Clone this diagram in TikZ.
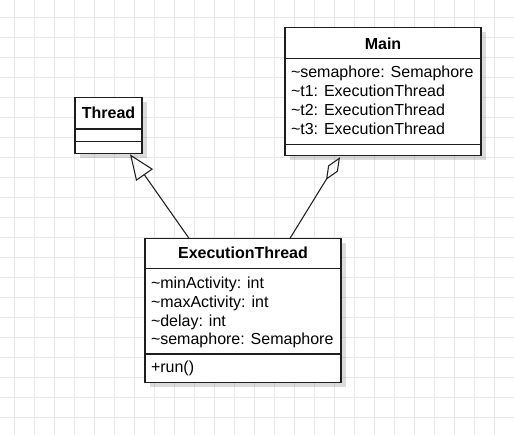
\documentclass[tikz,border=0pt]{standalone}
\usepackage{fontspec}
\setmainfont{Liberation Sans}
\usetikzlibrary{arrows.meta,calc,shadows}
\definecolor{gridgray}{RGB}{232,232,232}
\definecolor{boxline}{RGB}{30,30,30}
\begin{document}
\begin{tikzpicture}[x=0.75pt,y=-0.75pt,
  every node/.style={font=\fontsize{12}{14}\selectfont, inner sep=0pt, outer sep=0pt},
  gridline/.style={gridgray, line width=0.9pt},
  umlbox/.style={draw=boxline, line width=1pt, fill=white, anchor=north west,
    drop shadow={shadow xshift=3.5pt, shadow yshift=-3.5pt, opacity=0.14, fill=black}},
  sepline/.style={boxline, line width=1pt},
  classname/.style={anchor=base, font=\fontsize{12}{14}\selectfont\bfseries},
  member/.style={anchor=base west},
  link/.style={draw=boxline, line width=0.8pt},
]
\useasboundingbox (0,0) rectangle (514,435);

% background grid
\foreach \i in {0,...,24} {\draw[gridline] ({14.5+20*\i},0) -- ({14.5+20*\i},435);}
\foreach \j in {0,...,20} {\draw[gridline] (0,{17.5+20*\j}) -- (514,{17.5+20*\j});}

% class Thread
\node[umlbox, minimum width=50.25pt, minimum height=42pt] (thread) at (75,97.3) {};
\draw[sepline] ($(thread.north west)+(0,31.7)$) -- ($(thread.north east)+(0,31.7)$);
\draw[sepline] ($(thread.north west)+(0,44.4)$) -- ($(thread.north east)+(0,44.4)$);
\node[classname] (threadname) at ($(thread.north)+(0,21)$) {Thread};

% class Main
\node[umlbox, minimum width=147pt, minimum height=96pt] (main) at (285,27.7) {};
\draw[sepline] ($(main.north west)+(0,30.6)$) -- ($(main.north east)+(0,30.6)$);
\draw[sepline] ($(main.north west)+(0,116.6)$) -- ($(main.north east)+(0,116.6)$);
\node[classname] (mainname) at ($(main.north)+(0,21.6)$) {Main};
\node[member] (m1) at ($(main.north west)+(6,50.3)$) {\textasciitilde semaphore: Semaphore};
\node[member] (m2) at ($(main.north west)+(6,69.3)$) {\textasciitilde t1: ExecutionThread};
\node[member] (m3) at ($(main.north west)+(6,88.1)$) {\textasciitilde t2: ExecutionThread};
\node[member] (m4) at ($(main.north west)+(6,106.8)$) {\textasciitilde t3: ExecutionThread};

% class ExecutionThread
\node[umlbox, minimum width=147pt, minimum height=108pt] (et) at (145,238.3) {};
\draw[sepline] ($(et.north west)+(0,30)$) -- ($(et.north east)+(0,30)$);
\draw[sepline] ($(et.north west)+(0,115.7)$) -- ($(et.north east)+(0,115.7)$);
\node[classname] (etname) at ($(et.north)+(0,20.5)$) {ExecutionThread};
\node[member] (e1) at ($(et.north west)+(6,50)$) {\textasciitilde minActivity: int};
\node[member] (e2) at ($(et.north west)+(6,69)$) {\textasciitilde maxActivity: int};
\node[member] (e3) at ($(et.north west)+(6,87.7)$) {\textasciitilde delay: int};
\node[member] (e4) at ($(et.north west)+(6,106)$) {\textasciitilde semaphore: Semaphore};
\node[member] (e5) at ($(et.north west)+(6,134.4)$) {+run()};

% generalization: ExecutionThread -> Thread
\draw[link, -{Triangle[open, length=19pt, width=15.3pt]}]
  ($(et.north west)+(44,0)$) -- ($(thread.south west)+(55,1)$);

% aggregation: Main owns ExecutionThread
\draw[link, -{Diamond[open, length=20pt, width=8.6pt]}]
  ($(et.north west)+(145,0)$) -- ($(main.south west)+(55,1.5)$);
\end{tikzpicture}
\end{document}
